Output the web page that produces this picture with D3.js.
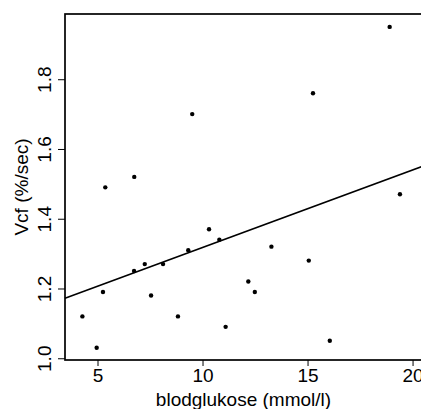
<!DOCTYPE html>
<html>
<head>
<meta charset="utf-8">
<script src="https://cdn.jsdelivr.net/npm/d3@7"></script>
<style>
  body { margin: 0; background: #fff; }
  svg { display: block; font-family: "Liberation Sans", Arial, sans-serif; }
</style>
</head>
<body>
<div id="chart"></div>
<script>
// blodglukose (mmol/l)
const glukose = [4.28, 4.96, 5.26, 5.37, 6.75, 6.74, 7.25, 7.55, 8.12, 8.83, 9.32, 9.51,
                 10.31, 10.8, 11.1, 12.18, 12.49, 13.28, 15.06, 15.26, 16.06, 18.91, 19.4];
// Vcf (%/sec)
const vcf = [1.12, 1.03, 1.19, 1.49, 1.52, 1.25, 1.27, 1.18, 1.27, 1.12, 1.31, 1.70,
             1.37, 1.34, 1.09, 1.22, 1.19, 1.32, 1.28, 1.76, 1.05, 1.95, 1.47];
const xTicks = [5, 10, 15, 20];
const yTicks = [1.0, 1.2, 1.4, 1.6, 1.8];
// fitted line: vcf = intercept + slope * glukose
const fitIntercept = 1.0952;
const fitSlope = 0.02224;

const width = 421;
const height = 409;
const margin = {top: 14, right: -1, bottom: 49, left: 65};
const fontSize = 19;

const svg = d3.select("#chart")
              .append("svg")
              .attr("width", width)
              .attr("height", height);

const x = d3.scaleLinear()
            .domain([3.452, 20.45])
            .range([margin.left, width - margin.right]);
const y = d3.scaleLinear()
            .domain([0.995, 1.987])
            .range([height - margin.bottom, margin.top]);

// x axis
const xAxis = svg.append("g")
                 .attr("transform", "translate(0," + (height - margin.bottom) + ")")
                 .call(d3.axisBottom(x).tickValues(xTicks).tickSize(6).tickPadding(3).tickSizeOuter(0));
xAxis.select(".domain").remove();
xAxis.selectAll("line").attr("stroke", "#000").attr("stroke-width", 1);
xAxis.selectAll("text")
     .style("font-size", fontSize + "px")
     .attr("fill", "#000")
     .attr("dy", "0.71em");

// y axis
const yAxis = svg.append("g")
                 .attr("transform", "translate(" + margin.left + ",0)")
                 .call(d3.axisLeft(y).tickValues(yTicks).tickFormat(d3.format(".1f")).tickSize(7).tickSizeOuter(0));
yAxis.select(".domain").remove();
yAxis.selectAll("line").attr("stroke", "#000").attr("stroke-width", 1);
yAxis.selectAll("text")
     .style("font-size", fontSize + "px")
     .attr("fill", "#000")
     .attr("x", null)
     .attr("dy", null)
     .attr("text-anchor", "middle")
     .attr("transform", "translate(-14,0)rotate(-90)");

// plot box
svg.append("rect")
   .attr("x", x.range()[0])
   .attr("y", y.range()[1])
   .attr("width", x.range()[1] - x.range()[0])
   .attr("height", y.range()[0] - y.range()[1])
   .attr("fill", "none")
   .attr("stroke", "#000")
   .attr("stroke-width", 1.7);

// regression line
const xd = x.domain();
svg.append("line")
   .attr("x1", x(xd[0]))
   .attr("y1", y(fitIntercept + fitSlope * xd[0]))
   .attr("x2", x(xd[1]))
   .attr("y2", y(fitIntercept + fitSlope * xd[1]))
   .attr("stroke", "#000")
   .attr("stroke-width", 1.6);

// points
svg.append("g")
   .selectAll("circle")
   .data(glukose.map(function (g, i) { return [g, vcf[i]]; }))
   .enter()
   .append("circle")
   .attr("cx", function (d) { return x(d[0]); })
   .attr("cy", function (d) { return y(d[1]); })
   .attr("r", 2.2)
   .attr("fill", "#000");

// axis titles
svg.append("text")
   .attr("x", (x.range()[0] + x.range()[1]) / 2)
   .attr("y", 406)
   .attr("text-anchor", "middle")
   .style("font-size", fontSize + "px")
   .text("blodglukose (mmol/l)");

svg.append("text")
   .attr("transform", "translate(28," + ((y.range()[0] + y.range()[1]) / 2) + ")rotate(-90)")
   .attr("text-anchor", "middle")
   .style("font-size", fontSize + "px")
   .text("Vcf (%/sec)");
</script>
</body>
</html>
